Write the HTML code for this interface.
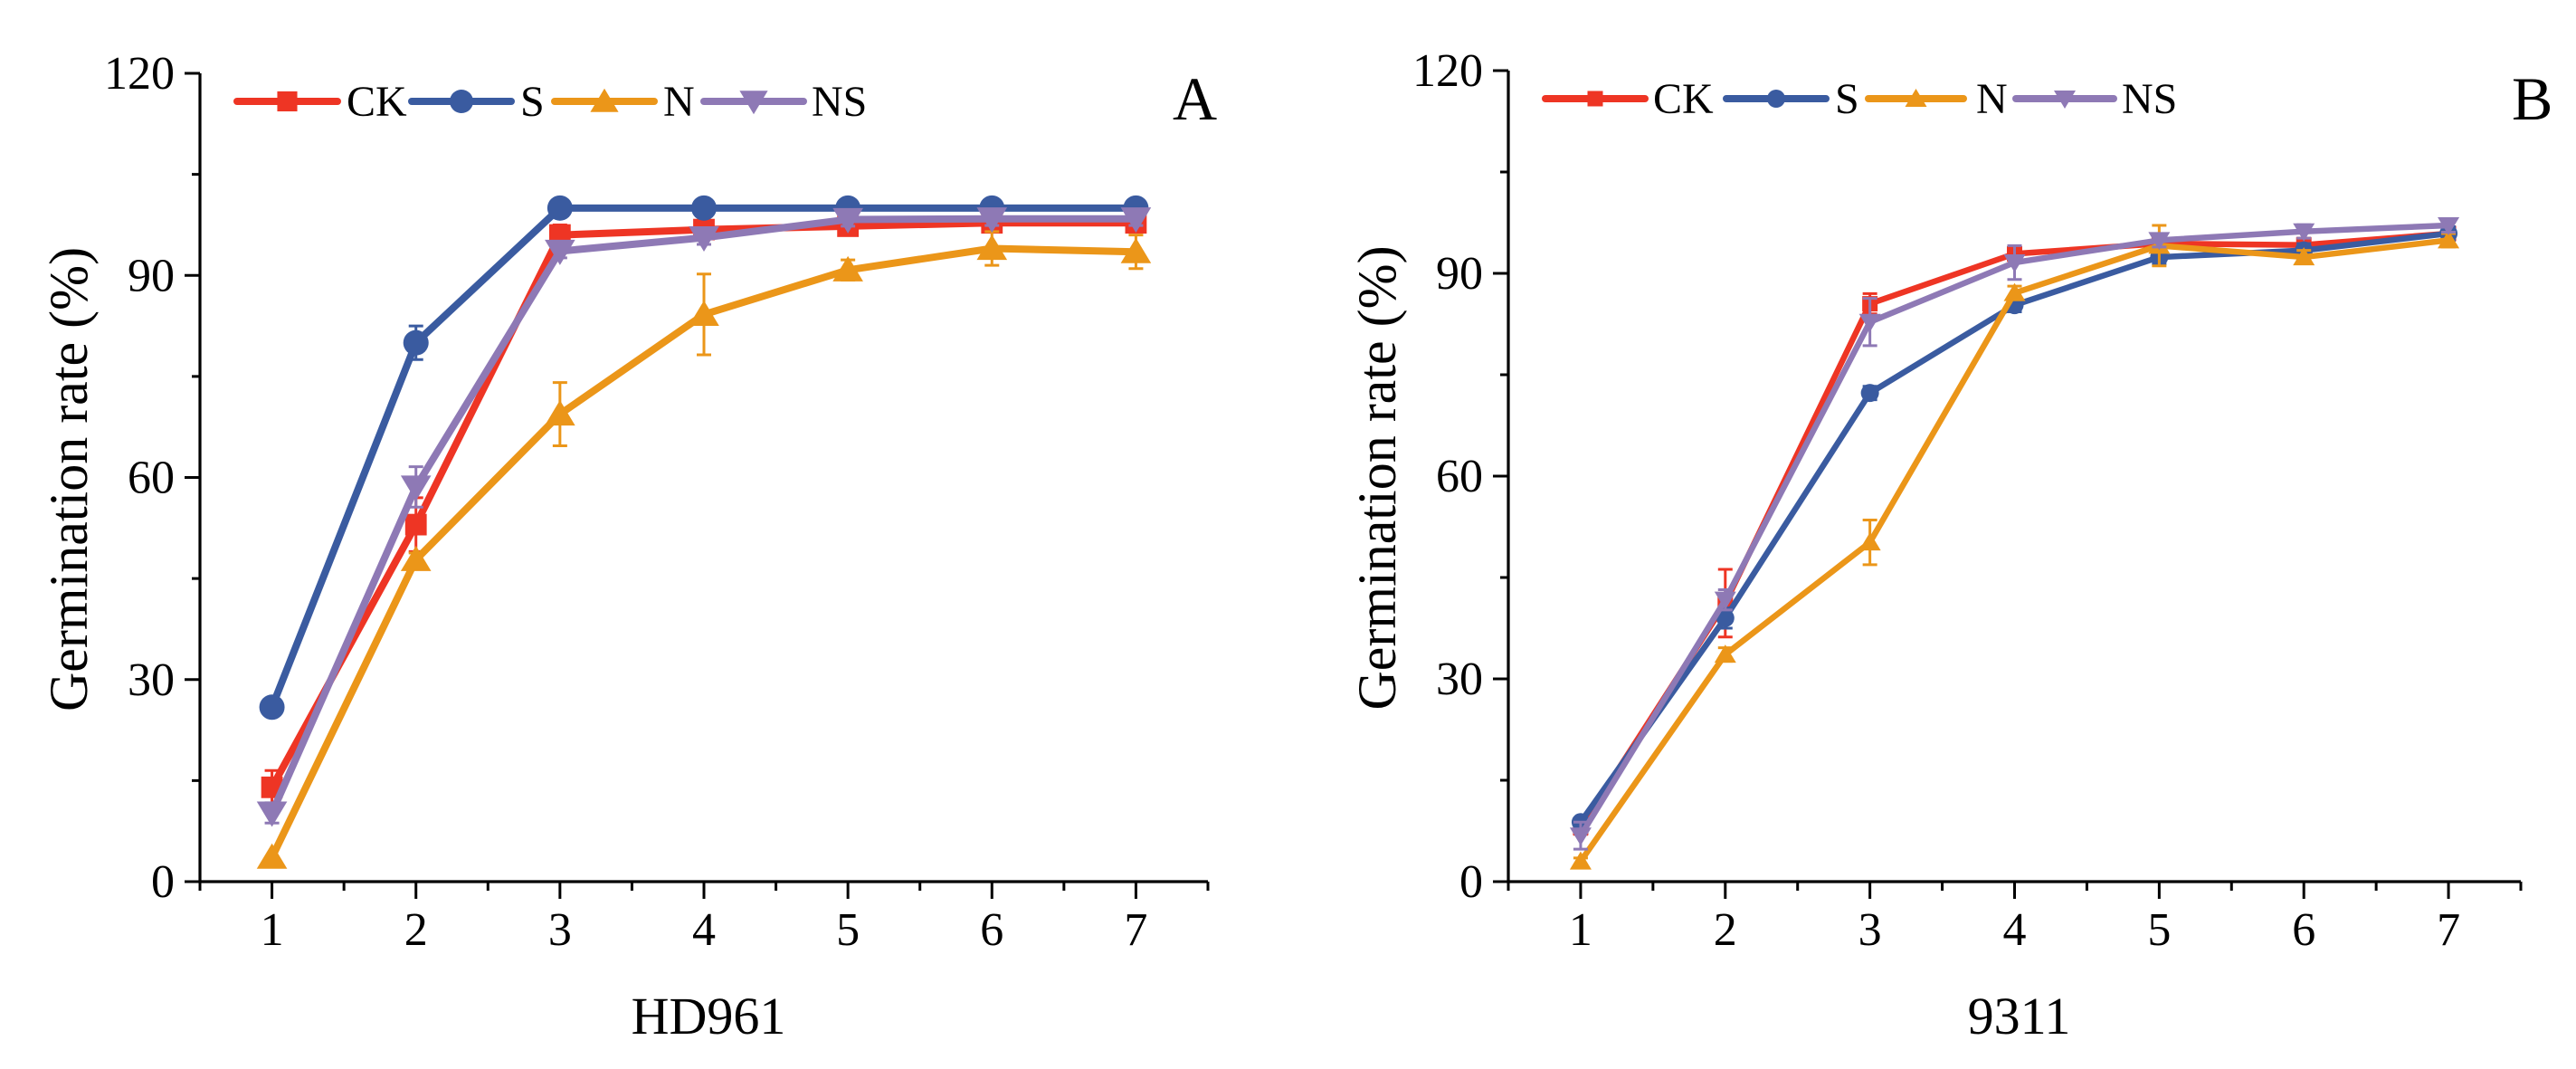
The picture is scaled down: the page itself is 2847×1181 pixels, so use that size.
<!DOCTYPE html>
<html><head><meta charset="utf-8"><style>
html,body{margin:0;padding:0;background:#fff;}
svg, svg text{font-family:"Liberation Serif","Times New Roman",Times,serif;}
</style></head><body>
<svg id="chart" width="2847" height="1176" viewBox="0 0 2847 1176" font-family="Liberation Serif, serif"></svg>
<script>
const days = [1,2,3,4,5,6,7];
const yTicks = [0,30,60,90,120];
const seriesNames = ["CK","S","N","NS"];
const colors = ["#EE3524","#3A5BA0","#EB9619","#8E79B5"];
// Panel A (HD961)
const aCK = [14,53,96,96.8,97.3,97.8,97.8];
const aCKerr = [2.5,4,1.5,1,1,1,1];
const aS = [25.9,80,100,100,100,100,100];
const aSerr = [0,2.5,0,0,0,0,0];
const aN = [3.6,47.8,69.4,84.2,90.8,94,93.5];
const aNerr = [0,1,4.7,6,1.5,2.5,2.5];
const aNS = [10.2,58.6,93.6,95.6,98.3,98.4,98.4];
const aNSerr = [1.5,3,1,1,1,1,1];
// Panel B (9311)
const bCK = [8,41.2,85.5,92.9,94.4,94.2,95.9];
const bCKerr = [1,5,1.5,1,1,1,1];
const bS = [8.8,39,72.3,85.3,92.4,93.4,95.9];
const bSerr = [0.5,1.5,1,1,1,1,1];
const bN = [3,33.6,50.2,87.1,94.1,92.4,94.9];
const bNerr = [0.5,1,3.3,1,3,1,1];
const bNS = [6.8,41.7,82.8,91.6,94.9,96.2,97.1];
const bNSerr = [2,1.5,3.5,2.5,1,1,1];

const NS_ = "http://www.w3.org/2000/svg";
const FONT = '"Liberation Serif", "Times New Roman", serif';
const svg = document.getElementById("chart");
function mk(tag, attrs, parent){
  const e = document.createElementNS(NS_, tag);
  for (const k in attrs) e.setAttribute(k, attrs[k]);
  if (tag === "text") e.style.fontFamily = FONT;
  (parent||svg).appendChild(e);
  return e;
}
function marker(g, kind, cx, cy, r, color){
  let m;
  if (kind==="CK") m = mk("rect",{x:cx-r*0.85,y:cy-r*0.85,width:r*1.7,height:r*1.7,fill:color},g);
  else if (kind==="S") m = mk("circle",{cx:cx,cy:cy,r:r,fill:color},g);
  else if (kind==="N") m = mk("polygon",{points:`${cx},${cy-r*1.1} ${cx+r*1.2},${cy+r*0.9} ${cx-r*1.2},${cy+r*0.9}`,fill:color},g);
  else m = mk("polygon",{points:`${cx},${cy+r*1.1} ${cx+r*1.2},${cy-r*0.9} ${cx-r*1.2},${cy-r*0.9}`,fill:color},g);
  return m;
}
function panel(cfg){
  const g = mk("g",{});
  
  
  const x0 = cfg.axisX, xR = cfg.axisR, yB = 974, yT = cfg.top;
  const xs = d => x0 + (d - 0.5) * (xR - x0) / 7;
  const ys = v => yB - v * (yB - yT) / 120;
  const ax = mk("path",{d:`M${x0},${yT} V${yB} H${xR}`,stroke:"#000","stroke-width":3.2,fill:"none"},g);
  
  
  yTicks.forEach(v=>{
    mk("line",{x1:x0-17,x2:x0,y1:ys(v),y2:ys(v),stroke:"#000","stroke-width":3},g);
    const t = mk("text",{x:x0-28,y:ys(v)+17,"text-anchor":"end","font-size":52},g);
    t.textContent = v;
    
    
  });
  for (let v=15; v<120; v+=30) mk("line",{x1:x0-9,x2:x0,y1:ys(v),y2:ys(v),stroke:"#000","stroke-width":3},g);
  for (let d=0.5; d<=7.5; d+=1) mk("line",{x1:xs(d),x2:xs(d),y1:yB,y2:yB+10,stroke:"#000","stroke-width":3},g);
  days.forEach(d=>{
    mk("line",{x1:xs(d),x2:xs(d),y1:yB,y2:yB+19,stroke:"#000","stroke-width":3},g);
    const t = mk("text",{x:xs(d),y:1044,"text-anchor":"middle","font-size":52},g);
    t.textContent = d;
    
    
  });
  const yl = mk("text",{x:0,y:0,"text-anchor":"middle","font-size":60,transform:`translate(${x0-125},${(yT+yB)/2+2}) rotate(-90)`},g);
  yl.textContent = "Germination rate (%)";
  
  
  const xl = mk("text",{x:(x0+xR)/2+5,y:1142,"text-anchor":"middle","font-size":58},g);
  xl.textContent = cfg.xTitle;
  
  
  const pl = mk("text",{x:cfg.letterX,y:132,"font-size":68},g);
  pl.textContent = cfg.letter;
  
  
  cfg.series.forEach((s,i)=>{
    const sg = mk("g",{},g);
    
    
    const c = colors[i];
    const pts = s.vals.map((v,k)=>`${xs(days[k])},${ys(v)}`).join(" ");
    const pl2 = mk("polyline",{points:pts,fill:"none",stroke:c,"stroke-width":cfg.lw,"stroke-linejoin":"round","stroke-linecap":"round"},sg);
    
    
    s.vals.forEach((v,k)=>{
      const e = s.err[k];
      if (e>0){
        const x = xs(days[k]);
        mk("path",{d:`M${x},${ys(v-e)}V${ys(v+e)}M${x-8},${ys(v-e)}H${x+8}M${x-8},${ys(v+e)}H${x+8}`,stroke:c,"stroke-width":3,fill:"none"},sg);
      }
      const m = marker(sg, seriesNames[i], xs(days[k]), ys(v), cfg.mr, c);
      
      
    });
  });
  cfg.legend.forEach((L,i)=>{
    const lg = mk("g",{},g);
    
    
    mk("line",{x1:L[0],x2:L[1],y1:cfg.legY,y2:cfg.legY,stroke:colors[i],"stroke-width":8,"stroke-linecap":"round"},lg);
    marker(lg, seriesNames[i], (L[0]+L[1])/2, cfg.legY, cfg.legMr, colors[i]);
    const t = mk("text",{x:L[2],y:cfg.legY+16,"font-size":48},lg);
    t.textContent = seriesNames[i];
  });
}
panel({name:"panel-a",axisX:221,axisR:1335,top:81,xTitle:"HD961",letter:"A",letterX:1296,lw:8,mr:14,legY:112,legMr:13,
  series:[{vals:aCK,err:aCKerr},{vals:aS,err:aSerr},{vals:aN,err:aNerr},{vals:aNS,err:aNSerr}],
  legend:[[262,373,383],[455,565,575],[613,723,733],[778,888,897]]});
panel({name:"panel-b",axisX:1667,axisR:2786,top:78,xTitle:"9311",letter:"B",letterX:2776,lw:6.5,mr:10,legY:109,legMr:10,
  series:[{vals:bCK,err:bCKerr},{vals:bS,err:bSerr},{vals:bN,err:bNerr},{vals:bNS,err:bNSerr}],
  legend:[[1708,1818,1827],[1908,2018,2028],[2065,2170,2184],[2228,2336,2345]]});
</script>
</body></html>
